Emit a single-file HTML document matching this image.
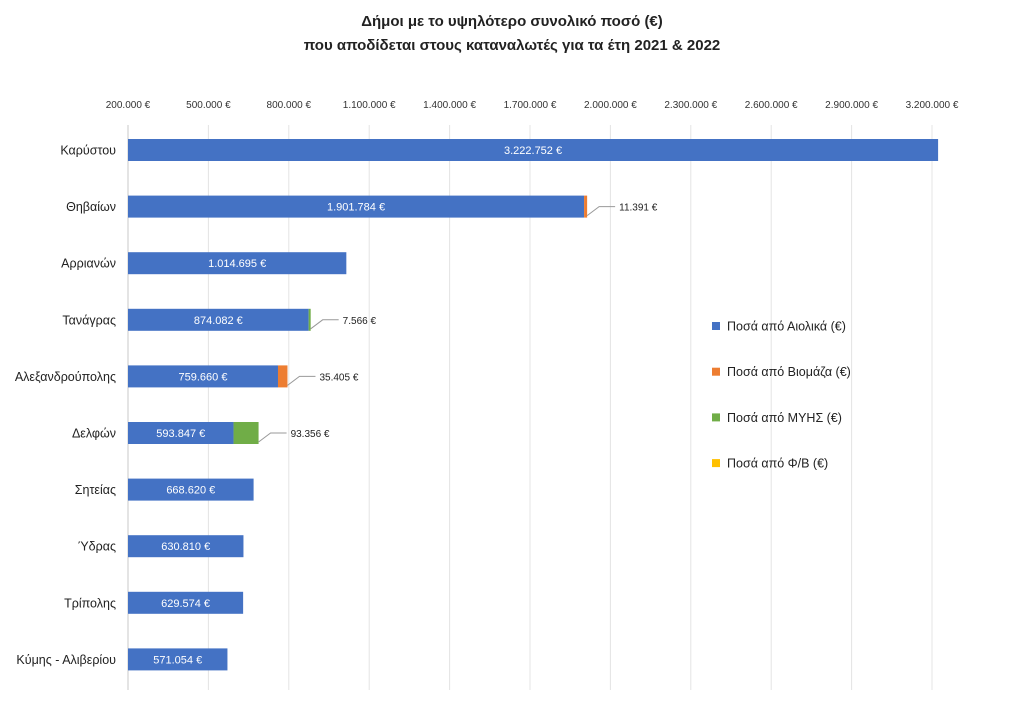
<!DOCTYPE html>
<html><head><meta charset="utf-8">
<style>
body{margin:0;background:#fff;}
svg{display:block;font-family:"Liberation Sans","DejaVu Sans",sans-serif;}
</style></head>
<body>
<svg id="chart" width="1024" height="709" viewBox="0 0 1024 709">
<text x="512" y="26" text-anchor="middle" font-size="15" font-weight="bold" fill="#222">Δήμοι με το υψηλότερο συνολικό ποσό (€)</text>
<text x="512" y="50" text-anchor="middle" font-size="15" font-weight="bold" fill="#222">που αποδίδεται στους καταναλωτές για τα έτη 2021 &amp; 2022</text>
<g id="grid"></g>
<g id="bars"></g>
<g id="legend"></g>
</svg>
<script>
const categories=["Καρύστου","Θηβαίων","Αρριανών","Τανάγρας","Αλεξανδρούπολης","Δελφών","Σητείας","Ύδρας","Τρίπολης","Κύμης - Αλιβερίου"];
const wind=[3222752,1901784,1014695,874082,759660,593847,668620,630810,629574,571054];
const biomass=[0,11391,0,0,35405,0,0,0,0,0];
const hydro=[0,0,0,7566,0,93356,0,0,0,0];
const solar=[0,0,0,0,0,0,0,0,0,0];
const ticks=[200000,500000,800000,1100000,1400000,1700000,2000000,2300000,2600000,2900000,3200000];
const seriesNames=["Ποσά από Αιολικά  (€)","Ποσά από Βιομάζα (€)","Ποσά από ΜΥΗΣ (€)","Ποσά από Φ/Β (€)"];
const colors=["#4472C4","#ED7D31","#70AD47","#FFC000"];

const NS="http://www.w3.org/2000/svg";
const x0=128, pxPer=80.4/300000, vmin=200000;
function xs(v){return x0+(v-vmin)*pxPer;}
function w(v){return v*pxPer;}
const rowTop=150, rowStep=56.6, barH=22;
function yc(i){return rowTop+i*rowStep;}
function fmt(v){return v.toString().replace(/\B(?=(\d{3})+(?!\d))/g,".")+" €";}
function mk(tag,attrs,parent){const e=document.createElementNS(NS,tag);for(const k in attrs)e.setAttribute(k,attrs[k]);parent.appendChild(e);return e;}

const grid=document.getElementById('grid');
ticks.forEach((t)=>{
  const x=xs(t);
  const l=mk('line',{x1:x,x2:x,y1:125,y2:690,stroke:t===vmin?'#c8c8c8':'#e4e4e4','stroke-width':1},grid);
  
  
  const tx=mk('text',{x:x,y:108,'text-anchor':'middle','font-size':10,fill:'#333'},grid);
  tx.textContent=fmt(t);
  
  
});

const bars=document.getElementById('bars');
const series=[wind,biomass,hydro,solar];
categories.forEach((c,i)=>{
  const y=yc(i);
  const lab=mk('text',{x:116,y:y+4.5,'text-anchor':'end','font-size':12.5,fill:'#222'},bars);
  lab.textContent=c;
  
  
  let cur=x0;
  series.forEach((s,si)=>{
    const v=s[i]; if(!v) return;
    const ww=si===0?xs(v)-x0:w(v);
    const r=mk('rect',{x:cur,y:y-barH/2,width:Math.max(ww,1.5),height:barH,fill:colors[si]},bars);
    
    
    if(si===0){
      const t=mk('text',{x:cur+ww/2,y:y+4,'text-anchor':'middle','font-size':11,fill:'#fff'},bars);
      t.textContent=fmt(v);
      
      
    }else{
      const end=cur+Math.max(ww,1.5);
      const ln=mk('polyline',{points:(end)+','+(y+9)+' '+(end+12)+','+(y)+' '+(end+28)+','+(y),fill:'none',stroke:'#999','stroke-width':1},bars);
      
      
      const t=mk('text',{x:end+32,y:y+4,'font-size':10,fill:'#222'},bars);
      t.textContent=fmt(v);
      
      
    }
    cur+=ww;
  });
});

const legend=document.getElementById('legend');
seriesNames.forEach((n,i)=>{
  const y=326+i*45.7;
  const r=mk('rect',{x:712,y:y-4,width:8,height:8,fill:colors[i]},legend);
  
  
  const t=mk('text',{x:727,y:y+4.5,'font-size':12.5,fill:'#222'},legend);
  t.textContent=n;
  
  
});
</script>
</body></html>
